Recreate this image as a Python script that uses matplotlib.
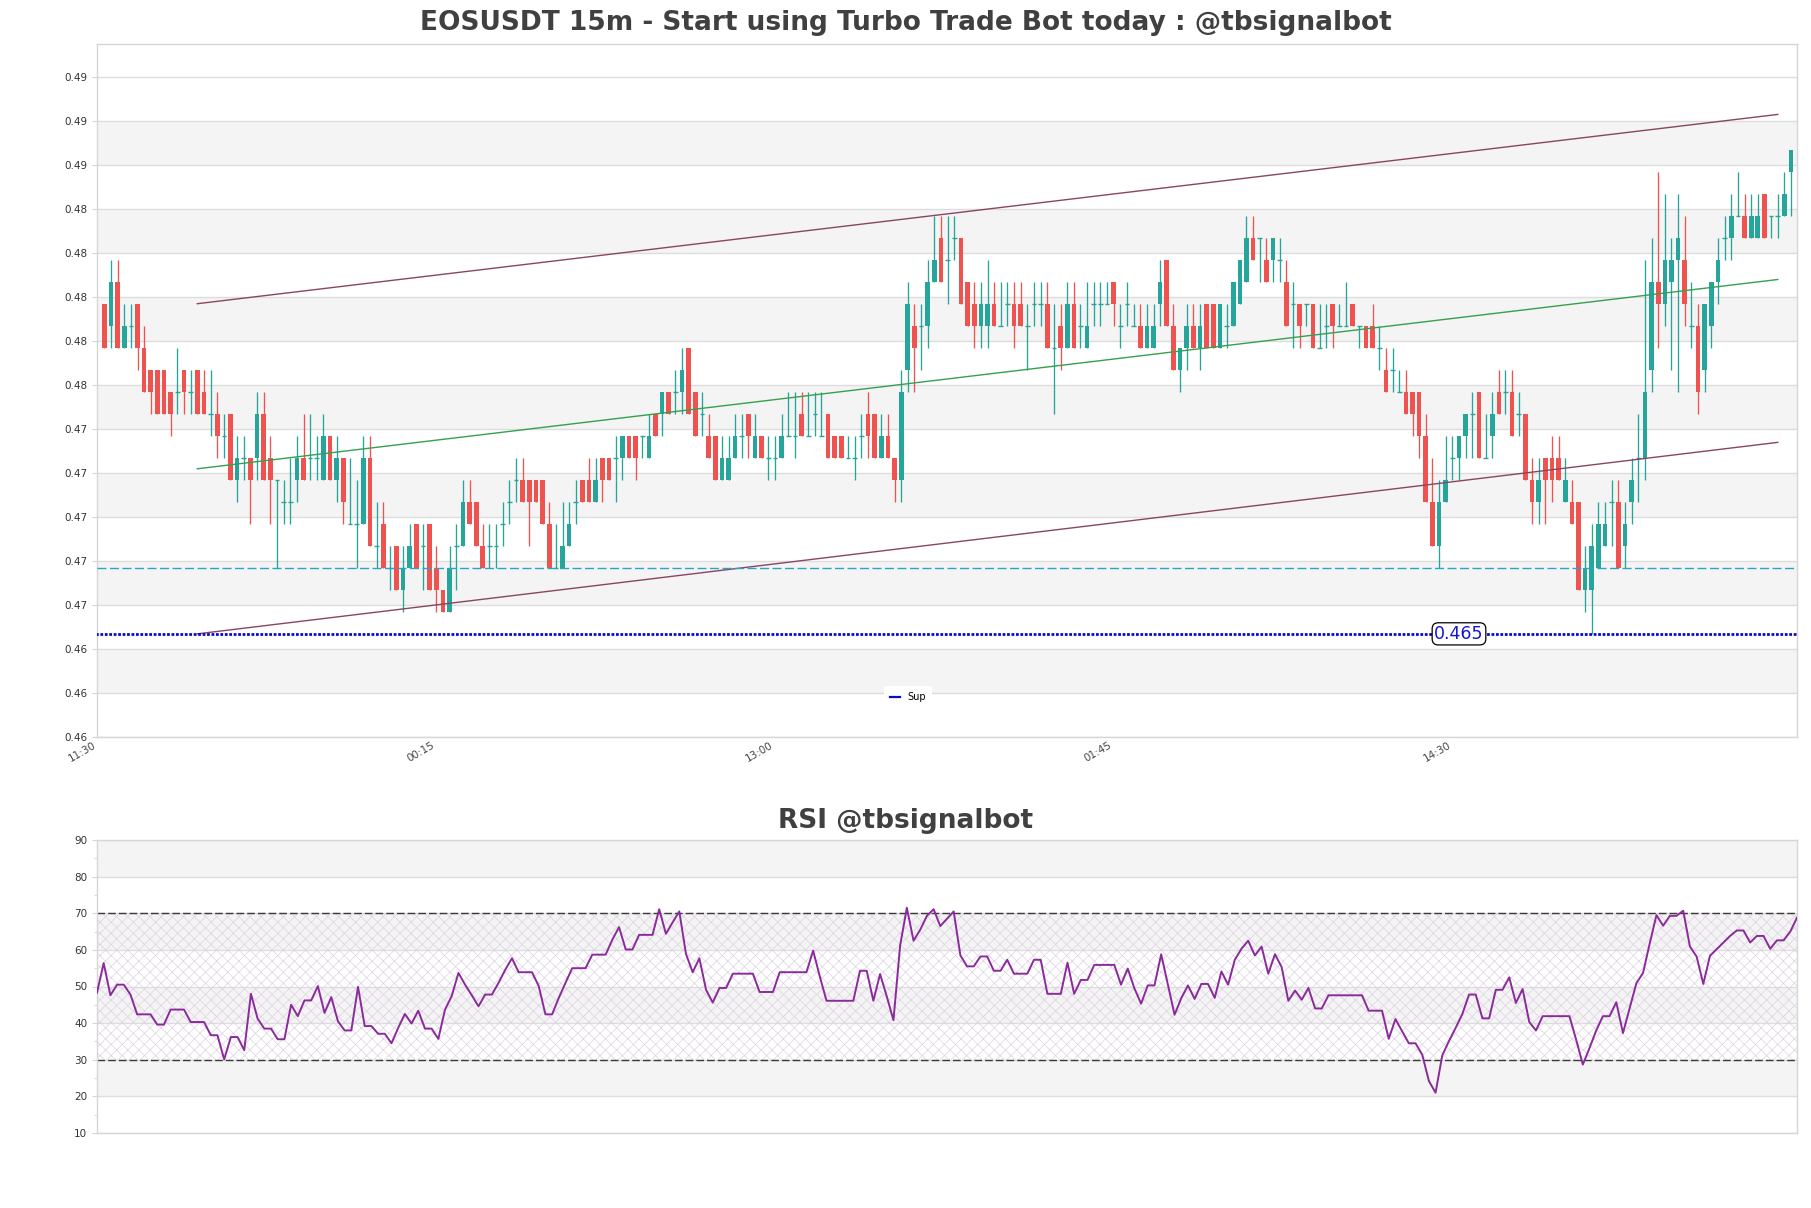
import matplotlib
matplotlib.use('Agg')
import matplotlib.pyplot as plt
from matplotlib.ticker import MultipleLocator
import numpy as np

# ---------------- data ----------------
opens = [0.480, 0.479, 0.481, 0.478, 0.479, 0.480, 0.478, 0.477, 0.477, 0.477,
         0.476, 0.476, 0.477, 0.476, 0.477, 0.476, 0.475, 0.475, 0.474, 0.475,
         0.472, 0.473, 0.473, 0.473, 0.475, 0.473, 0.472, 0.471, 0.471, 0.472,
         0.473, 0.473, 0.473, 0.472, 0.474, 0.472, 0.473, 0.470, 0.470, 0.470,
         0.473, 0.469, 0.470, 0.468, 0.469, 0.467, 0.468, 0.470, 0.469, 0.470,
         0.468, 0.467, 0.466, 0.469, 0.469, 0.471, 0.471, 0.469, 0.469, 0.469,
         0.470, 0.471, 0.472, 0.472, 0.472, 0.472, 0.472, 0.470, 0.468, 0.468,
         0.469, 0.471, 0.472, 0.472, 0.471, 0.473, 0.473, 0.473, 0.473, 0.474,
         0.474, 0.474, 0.473, 0.475, 0.475, 0.476, 0.476, 0.476, 0.478, 0.476,
         0.475, 0.474, 0.474, 0.472, 0.472, 0.473, 0.474, 0.475, 0.473, 0.474,
         0.473, 0.473, 0.473, 0.474, 0.474, 0.475, 0.474, 0.475, 0.474, 0.475,
         0.474, 0.474, 0.473, 0.473, 0.474, 0.475, 0.475, 0.473, 0.474, 0.473,
         0.472, 0.477, 0.479, 0.479, 0.479, 0.481, 0.483, 0.482, 0.483, 0.483,
         0.481, 0.480, 0.479, 0.479, 0.480, 0.479, 0.480, 0.480, 0.480, 0.479,
         0.480, 0.480, 0.480, 0.478, 0.479, 0.478, 0.480, 0.479, 0.478, 0.480,
         0.480, 0.480, 0.481, 0.479, 0.480, 0.479, 0.479, 0.478, 0.478, 0.480,
         0.482, 0.479, 0.477, 0.478, 0.479, 0.478, 0.480, 0.480, 0.478, 0.479,
         0.479, 0.480, 0.481, 0.483, 0.483, 0.482, 0.482, 0.482, 0.481, 0.480,
         0.480, 0.480, 0.480, 0.478, 0.479, 0.480, 0.479, 0.479, 0.480, 0.479,
         0.479, 0.479, 0.478, 0.477, 0.477, 0.476, 0.476, 0.476, 0.476, 0.474,
         0.471, 0.469, 0.471, 0.473, 0.473, 0.474, 0.475, 0.476, 0.473, 0.474,
         0.476, 0.476, 0.476, 0.475, 0.475, 0.472, 0.471, 0.473, 0.473, 0.473,
         0.471, 0.471, 0.471, 0.467, 0.467, 0.468, 0.469, 0.471, 0.471, 0.469,
         0.471, 0.473, 0.473, 0.477, 0.481, 0.480, 0.481, 0.482, 0.482, 0.479,
         0.479, 0.477, 0.479, 0.481, 0.483, 0.483, 0.484, 0.484, 0.483, 0.483,
         0.485, 0.484, 0.484, 0.484, 0.486]

highs = [0.480, 0.482, 0.482, 0.480, 0.480, 0.480, 0.479, 0.477, 0.477, 0.477,
         0.476, 0.478, 0.477, 0.477, 0.477, 0.477, 0.477, 0.476, 0.475, 0.475,
         0.474, 0.474, 0.473, 0.476, 0.476, 0.474, 0.472, 0.472, 0.473, 0.474,
         0.475, 0.475, 0.474, 0.475, 0.474, 0.474, 0.473, 0.473, 0.472, 0.474,
         0.474, 0.471, 0.471, 0.469, 0.469, 0.469, 0.470, 0.470, 0.470, 0.470,
         0.469, 0.467, 0.469, 0.470, 0.472, 0.472, 0.471, 0.470, 0.470, 0.470,
         0.471, 0.472, 0.473, 0.473, 0.472, 0.472, 0.472, 0.471, 0.470, 0.471,
         0.471, 0.472, 0.472, 0.473, 0.473, 0.473, 0.473, 0.474, 0.474, 0.474,
         0.474, 0.474, 0.475, 0.475, 0.476, 0.476, 0.477, 0.478, 0.478, 0.476,
         0.476, 0.475, 0.474, 0.474, 0.474, 0.475, 0.475, 0.475, 0.475, 0.474,
         0.474, 0.474, 0.475, 0.476, 0.476, 0.476, 0.476, 0.476, 0.476, 0.475,
         0.474, 0.474, 0.474, 0.474, 0.475, 0.476, 0.475, 0.475, 0.475, 0.473,
         0.477, 0.481, 0.480, 0.480, 0.482, 0.484, 0.484, 0.484, 0.484, 0.483,
         0.481, 0.481, 0.481, 0.482, 0.481, 0.481, 0.481, 0.481, 0.481, 0.480,
         0.481, 0.481, 0.481, 0.480, 0.480, 0.481, 0.481, 0.480, 0.481, 0.481,
         0.481, 0.481, 0.481, 0.480, 0.481, 0.480, 0.480, 0.480, 0.480, 0.482,
         0.482, 0.480, 0.478, 0.480, 0.480, 0.480, 0.480, 0.480, 0.480, 0.480,
         0.481, 0.482, 0.484, 0.484, 0.483, 0.483, 0.483, 0.483, 0.482, 0.481,
         0.480, 0.480, 0.480, 0.480, 0.480, 0.480, 0.480, 0.481, 0.480, 0.479,
         0.479, 0.480, 0.479, 0.478, 0.478, 0.477, 0.477, 0.476, 0.476, 0.475,
         0.473, 0.472, 0.474, 0.474, 0.474, 0.475, 0.476, 0.476, 0.475, 0.476,
         0.477, 0.477, 0.477, 0.476, 0.475, 0.473, 0.473, 0.473, 0.474, 0.474,
         0.473, 0.472, 0.471, 0.469, 0.470, 0.471, 0.471, 0.472, 0.472, 0.471,
         0.473, 0.475, 0.482, 0.483, 0.486, 0.485, 0.483, 0.485, 0.484, 0.481,
         0.480, 0.480, 0.481, 0.483, 0.484, 0.485, 0.486, 0.485, 0.485, 0.485,
         0.485, 0.484, 0.485, 0.486, 0.487]

lows = [0.478, 0.478, 0.478, 0.478, 0.478, 0.477, 0.476, 0.475, 0.475, 0.475,
        0.474, 0.475, 0.475, 0.475, 0.475, 0.475, 0.474, 0.473, 0.473, 0.472,
        0.471, 0.472, 0.470, 0.472, 0.472, 0.470, 0.468, 0.470, 0.470, 0.471,
        0.472, 0.472, 0.472, 0.472, 0.472, 0.471, 0.470, 0.470, 0.468, 0.470,
        0.469, 0.468, 0.468, 0.467, 0.467, 0.466, 0.468, 0.468, 0.467, 0.467,
        0.466, 0.466, 0.466, 0.467, 0.469, 0.470, 0.469, 0.468, 0.468, 0.468,
        0.469, 0.470, 0.471, 0.471, 0.469, 0.471, 0.470, 0.468, 0.468, 0.468,
        0.469, 0.470, 0.471, 0.471, 0.471, 0.471, 0.472, 0.471, 0.472, 0.473,
        0.472, 0.473, 0.473, 0.474, 0.474, 0.475, 0.475, 0.475, 0.475, 0.474,
        0.474, 0.473, 0.472, 0.472, 0.472, 0.473, 0.473, 0.473, 0.473, 0.473,
        0.472, 0.472, 0.473, 0.474, 0.473, 0.474, 0.474, 0.474, 0.474, 0.473,
        0.473, 0.473, 0.473, 0.472, 0.473, 0.473, 0.473, 0.473, 0.473, 0.471,
        0.471, 0.476, 0.476, 0.477, 0.478, 0.481, 0.481, 0.480, 0.482, 0.480,
        0.479, 0.478, 0.478, 0.478, 0.479, 0.479, 0.479, 0.478, 0.479, 0.477,
        0.479, 0.479, 0.478, 0.475, 0.477, 0.478, 0.478, 0.478, 0.478, 0.479,
        0.479, 0.480, 0.479, 0.478, 0.479, 0.479, 0.478, 0.478, 0.478, 0.479,
        0.479, 0.477, 0.476, 0.477, 0.478, 0.477, 0.478, 0.478, 0.478, 0.478,
        0.479, 0.480, 0.481, 0.482, 0.481, 0.481, 0.481, 0.481, 0.479, 0.478,
        0.478, 0.479, 0.478, 0.478, 0.478, 0.478, 0.479, 0.479, 0.479, 0.478,
        0.478, 0.478, 0.477, 0.476, 0.476, 0.476, 0.475, 0.474, 0.473, 0.471,
        0.469, 0.468, 0.471, 0.472, 0.472, 0.473, 0.473, 0.473, 0.473, 0.473,
        0.475, 0.475, 0.474, 0.474, 0.472, 0.470, 0.470, 0.470, 0.471, 0.472,
        0.471, 0.470, 0.467, 0.466, 0.465, 0.468, 0.469, 0.469, 0.468, 0.468,
        0.470, 0.471, 0.472, 0.476, 0.478, 0.479, 0.477, 0.476, 0.479, 0.478,
        0.475, 0.476, 0.478, 0.480, 0.482, 0.482, 0.484, 0.483, 0.483, 0.483,
        0.483, 0.483, 0.483, 0.484, 0.484]

closes = [0.478, 0.481, 0.478, 0.479, 0.479, 0.478, 0.476, 0.476, 0.475, 0.475,
          0.475, 0.476, 0.476, 0.476, 0.475, 0.475, 0.475, 0.474, 0.474, 0.472,
          0.473, 0.473, 0.472, 0.475, 0.472, 0.472, 0.472, 0.471, 0.471, 0.473,
          0.472, 0.473, 0.473, 0.474, 0.472, 0.473, 0.471, 0.470, 0.470, 0.473,
          0.469, 0.469, 0.468, 0.468, 0.467, 0.468, 0.469, 0.468, 0.469, 0.467,
          0.467, 0.466, 0.468, 0.469, 0.471, 0.470, 0.469, 0.468, 0.469, 0.469,
          0.470, 0.471, 0.472, 0.471, 0.471, 0.471, 0.470, 0.468, 0.468, 0.469,
          0.470, 0.471, 0.471, 0.471, 0.472, 0.472, 0.472, 0.473, 0.474, 0.473,
          0.473, 0.474, 0.474, 0.474, 0.476, 0.475, 0.476, 0.477, 0.475, 0.474,
          0.475, 0.473, 0.472, 0.473, 0.473, 0.474, 0.474, 0.474, 0.474, 0.473,
          0.473, 0.473, 0.474, 0.474, 0.474, 0.474, 0.474, 0.475, 0.474, 0.473,
          0.473, 0.473, 0.473, 0.473, 0.474, 0.474, 0.473, 0.474, 0.473, 0.472,
          0.476, 0.480, 0.478, 0.479, 0.481, 0.482, 0.481, 0.482, 0.483, 0.480,
          0.479, 0.479, 0.480, 0.480, 0.479, 0.479, 0.480, 0.479, 0.479, 0.479,
          0.480, 0.480, 0.478, 0.478, 0.478, 0.480, 0.478, 0.479, 0.479, 0.480,
          0.480, 0.480, 0.480, 0.479, 0.480, 0.479, 0.478, 0.479, 0.479, 0.481,
          0.479, 0.477, 0.478, 0.479, 0.478, 0.479, 0.478, 0.478, 0.480, 0.479,
          0.481, 0.482, 0.483, 0.482, 0.483, 0.481, 0.483, 0.482, 0.479, 0.480,
          0.479, 0.480, 0.478, 0.478, 0.479, 0.479, 0.479, 0.479, 0.479, 0.479,
          0.478, 0.478, 0.478, 0.476, 0.477, 0.476, 0.475, 0.475, 0.474, 0.471,
          0.469, 0.471, 0.472, 0.473, 0.474, 0.475, 0.475, 0.473, 0.473, 0.475,
          0.475, 0.476, 0.474, 0.475, 0.472, 0.471, 0.472, 0.472, 0.472, 0.472,
          0.472, 0.470, 0.467, 0.468, 0.469, 0.470, 0.470, 0.471, 0.468, 0.470,
          0.472, 0.473, 0.476, 0.481, 0.480, 0.482, 0.482, 0.483, 0.480, 0.479,
          0.476, 0.480, 0.481, 0.482, 0.483, 0.484, 0.484, 0.483, 0.484, 0.484,
          0.483, 0.484, 0.484, 0.485, 0.487]

rsi_values = [48.3, 56.4, 47.6, 50.5, 50.5, 47.8, 42.4, 42.4, 42.4, 39.6,
              39.6, 43.7, 43.7, 43.7, 40.3, 40.3, 40.3, 36.7, 36.7, 30.1,
              36.2, 36.2, 32.6, 48.0, 41.2, 38.5, 38.5, 35.6, 35.6, 45.0,
              41.9, 46.2, 46.2, 50.1, 42.8, 47.1, 40.5, 38.0, 38.0, 49.9,
              39.2, 39.2, 37.1, 37.1, 34.5, 38.7, 42.5, 39.9, 43.4, 38.5,
              38.5, 35.7, 43.7, 47.4, 53.7, 50.5, 47.6, 44.6, 47.8, 47.8,
              51.0, 54.6, 57.7, 53.9, 53.9, 53.9, 50.1, 42.4, 42.4, 46.9,
              51.0, 55.0, 55.0, 55.0, 58.7, 58.7, 58.7, 62.8, 66.2, 60.1,
              60.1, 64.1, 64.1, 64.1, 71.1, 64.4, 67.5, 70.5, 58.9, 53.9,
              57.7, 49.1, 45.6, 49.6, 49.6, 53.5, 53.5, 53.5, 53.5, 48.5,
              48.5, 48.5, 53.9, 53.9, 53.9, 53.9, 53.9, 59.8, 52.7, 46.1,
              46.1, 46.1, 46.1, 46.1, 54.3, 54.3, 46.1, 53.4, 47.3, 40.8,
              61.2, 71.5, 62.5, 65.5, 69.3, 71.1, 66.5, 68.5, 70.5, 58.5,
              55.5, 55.5, 58.2, 58.2, 54.3, 54.3, 57.3, 53.5, 53.5, 53.5,
              57.3, 57.3, 48.0, 48.0, 48.0, 56.5, 48.0, 51.8, 51.8, 55.9,
              55.9, 55.9, 55.9, 50.5, 54.9, 49.5, 45.3, 50.3, 50.3, 58.8,
              50.5, 42.3, 46.8, 50.3, 46.6, 50.7, 50.7, 46.9, 54.1, 50.5,
              57.3, 60.3, 62.5, 58.5, 60.9, 53.5, 58.8, 55.3, 46.1, 48.9,
              46.4, 49.6, 44.0, 44.0, 47.6, 47.6, 47.6, 47.6, 47.6, 47.6,
              43.4, 43.4, 43.4, 35.7, 41.1, 37.8, 34.5, 34.5, 31.4, 24.2,
              21.0, 31.2, 35.1, 38.7, 42.5, 47.8, 47.8, 41.3, 41.3, 49.1,
              49.1, 52.5, 45.5, 49.3, 40.3, 38.0, 41.9, 41.9, 41.9, 41.9,
              41.9, 35.5, 28.7, 33.2, 38.0, 41.9, 41.9, 45.7, 37.3, 44.1,
              50.9, 53.7, 61.8, 69.5, 66.6, 69.3, 69.3, 70.7, 60.9, 58.2,
              50.7, 58.4, 60.2, 62.0, 63.8, 65.3, 65.3, 62.0, 63.8, 63.8,
              60.3, 62.6, 62.6, 65.0, 68.8]

time_tick_idx = [-1, 50, 101, 152, 203]
time_labels = ['11:30', '00:15', '13:00', '01:45', '14:30']
price_ticks = [0.4603, 0.4623, 0.4643, 0.4663, 0.4683, 0.4703, 0.4723, 0.4743,
               0.4763, 0.4783, 0.4803, 0.4823, 0.4843, 0.4863, 0.4883, 0.4903]
price_limits = [0.4603, 0.4918]

support_level = 0.465
support_label_idx = 204
dash_level = 0.468
channel_idx = [14, 252]
channel_upper = [0.4800, 0.4886]
channel_mid = [0.4725, 0.4811]
channel_lower = [0.4650, 0.4737]

rsi_ticks = [10, 20, 30, 40, 50, 60, 70, 80, 90]
rsi_levels = [30, 70]

# ---------------- styling ----------------
GREEN = '#26a69a'
RED = '#ef5350'
BAND = '#f4f4f4'
GRID = '#dddddd'
SPINE = '#d6d6d6'
TXT = '#333333'

plt.rcParams['font.family'] = ['DejaVu Sans']
plt.rcParams['hatch.linewidth'] = 0.5

W, H = 1811, 1208
fig = plt.figure(figsize=(W / 100, H / 100), dpi=100)
fig.patch.set_facecolor('white')

def frac_rect(x0, y0, x1, y1):
    return [x0 / W, 1 - y1 / H, (x1 - x0) / W, (y1 - y0) / H]

ax = fig.add_axes(frac_rect(97, 44, 1797, 737.3))
ax2 = fig.add_axes(frac_rect(97, 840, 1797, 1133))

# ---------------- main candlestick panel ----------------
o = np.array(opens); h = np.array(highs); l = np.array(lows); c = np.array(closes)
x = np.arange(len(o))
up = c >= o
cols = np.where(up, GREEN, RED)

for k in range(1, len(price_ticks) - 1, 2):
    ax.axhspan(price_ticks[k], price_ticks[k + 1], color=BAND, lw=0, zorder=0)
ax.set_yticks(price_ticks)
ax.set_yticklabels(['%.2f' % t for t in price_ticks])
ax.yaxis.grid(True, color=GRID, lw=1.0, zorder=0.5)
ax.set_axisbelow(True)

ax.vlines(x, l, h, colors=cols, lw=0.95, zorder=3)
body = np.abs(c - o)
doji = body < 1e-9
ax.bar(x[~doji], body[~doji], bottom=np.minimum(o, c)[~doji], width=0.7,
       color=cols[~doji], lw=0, zorder=4)
ax.hlines(c[doji], x[doji] - 0.35, x[doji] + 0.35, colors=cols[doji], lw=1.0, zorder=4)

ax.plot(channel_idx, channel_upper, color='#8a4563', lw=1.0, zorder=5)
ax.plot(channel_idx, channel_lower, color='#8a4563', lw=1.0, zorder=5)
ax.plot(channel_idx, channel_mid, color='#35a04f', lw=1.0, zorder=5)

ax.axhline(dash_level, color='#2aa3c8', lw=1.0, ls=(0, (6.5, 2.5)), zorder=5)
sup_line, = ax.plot([-2, len(o) + 2], [support_level, support_level], color='#0a0ac8',
                    lw=2.0, ls=(0, (1, 0.6)), zorder=6, label='Sup')
ax.text(support_label_idx, support_level, '%.3f' % support_level, color='#1515d0',
        fontsize=12.5, ha='center', va='center', zorder=7,
        bbox=dict(boxstyle='round,pad=0.12,rounding_size=0.35', fc='white', ec='black', lw=0.9))

leg = ax.legend(handles=[sup_line], loc='center', bbox_to_anchor=(0.477, 0.058),
                fontsize=7, frameon=True, handlelength=1.0, handletextpad=0.8,
                borderpad=0.6, fancybox=True)
leg.get_frame().set_edgecolor('none')
leg.get_frame().set_facecolor('white')
leg.get_frame().set_alpha(1)
for lh in leg.get_lines():
    lh.set_linestyle('-')
    lh.set_linewidth(1.6)

ax.set_xlim(-1.1, 254.9)
ax.set_ylim(*price_limits)
ax.set_xticks(time_tick_idx)
ax.set_xticklabels(time_labels, rotation=30, ha='right', fontsize=7.5, color='#444444')
ax.tick_params(axis='x', length=0, pad=2)
ax.tick_params(axis='y', labelsize=7.5, labelcolor=TXT, color=SPINE, length=3.5)
for s in ax.spines.values():
    s.set_color(SPINE)
    s.set_linewidth(1.0)

fig.text(0.5, 1 - 23.5 / H, 'EOSUSDT 15m - Start using Turbo Trade Bot today : @tbsignalbot',
         ha='center', va='center', fontsize=19, fontweight='bold', color='#404040')

# ---------------- RSI panel ----------------
r = np.array(rsi_values)
xr = np.arange(len(r))
for lo in (20, 40, 60, 80):
    ax2.axhspan(lo, lo + 10, color=BAND, lw=0, zorder=0)
ax2.axhspan(rsi_levels[0], rsi_levels[1], facecolor='none', hatch='xxx',
            edgecolor='#ddd2e3', lw=0, zorder=0.6)
ax2.set_yticks(rsi_ticks)
ax2.yaxis.set_minor_locator(MultipleLocator(5))
ax2.yaxis.grid(True, which='major', color=GRID, lw=1.0, zorder=0.5)
ax2.set_axisbelow(True)
for lv in rsi_levels:
    ax2.axhline(lv, color='#3a3a3a', lw=1.0, ls=(0, (5.5, 2.2)), zorder=2)
ax2.plot(xr, r, color='#8b2a9b', lw=1.4, zorder=4)
ax2.set_xlim(0, len(r) - 1)
ax2.set_ylim(10, 90)
ax2.set_xticks([])
ax2.tick_params(axis='y', which='major', labelsize=7.5, labelcolor=TXT, color=SPINE, length=3.5)
ax2.tick_params(axis='y', which='minor', color=SPINE, length=2.5)
for s in ax2.spines.values():
    s.set_color(SPINE)
    s.set_linewidth(1.0)

fig.text(0.5, 1 - 821 / H, 'RSI @tbsignalbot', ha='center', va='center',
         fontsize=19, fontweight='bold', color='#404040')

fig.savefig('out.png', dpi=100, facecolor='white')
